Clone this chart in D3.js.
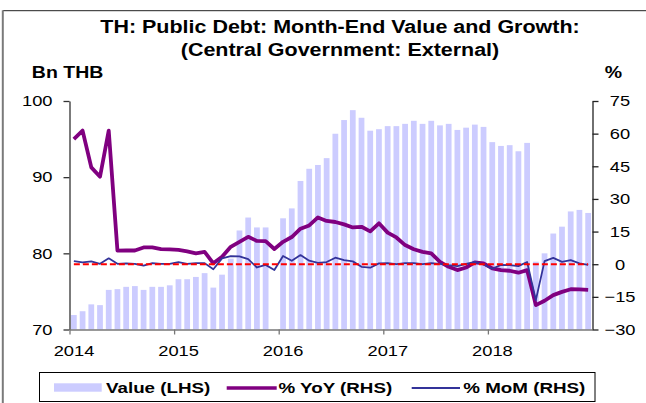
<!DOCTYPE html>
<html>
<head>
<meta charset="utf-8">
<script src="https://cdn.jsdelivr.net/npm/d3@7"></script>
<style>
  html, body { margin: 0; padding: 0; background: #fff; }
  svg { display: block; }
  text { font-family: "Liberation Sans", Arial, sans-serif; fill: #000; }
</style>
</head>
<body>
<svg id="chart" width="646" height="403"></svg>
<script>
// ---------------- DATA ----------------
const months = [
  "2014-01","2014-02","2014-03","2014-04","2014-05","2014-06","2014-07","2014-08","2014-09","2014-10","2014-11","2014-12",
  "2015-01","2015-02","2015-03","2015-04","2015-05","2015-06","2015-07","2015-08","2015-09","2015-10","2015-11","2015-12",
  "2016-01","2016-02","2016-03","2016-04","2016-05","2016-06","2016-07","2016-08","2016-09","2016-10","2016-11","2016-12",
  "2017-01","2017-02","2017-03","2017-04","2017-05","2017-06","2017-07","2017-08","2017-09","2017-10","2017-11","2017-12",
  "2018-01","2018-02","2018-03","2018-04","2018-05","2018-06","2018-07","2018-08","2018-09","2018-10","2018-11","2018-12"
];
// Value (LHS), Bn THB
const valueLHS = [
  71.9, 72.4, 73.3, 73.2, 75.2, 75.3, 75.6, 75.7, 75.2, 75.6, 75.6, 75.8,
  76.6, 76.6, 76.9, 77.4, 75.5, 77.2, 79.3, 83.0, 84.7, 83.4, 83.4, null,
  84.6, 85.9, 89.5, 91.1, 91.6, 92.5, 95.7, 97.5, 98.8, 97.8, 96.1, 96.3,
  96.7, 96.7, 97.0, 97.4, 97.0, 97.4, 96.8, 97.0, 96.2, 96.5, 96.9, 96.6,
  94.6, 94.1, 94.2, 93.4, 94.5, 78.9, 80.0, 82.6, 83.5, 85.5, 85.7, 85.3
];
// % YoY (RHS)
const yoyRHS = [
  57.5, 61.4, 44.5, 40.2, 61.4, 6.2, 6.3, 6.3, 7.7, 7.7, 6.9, 6.8,
  6.6, 5.9, 5.0, 5.7, 0.4, 3.4, 8.0, 10.3, 12.6, 10.7, 10.6, 7.0,
  10.3, 12.5, 16.3, 17.8, 21.5, 19.9, 19.4, 18.3, 16.9, 17.2, 15.1, 18.8,
  14.5, 12.3, 8.8, 6.9, 5.7, 5.0, 1.1, -1.2, -2.7, -1.5, 0.8, 0.4,
  -1.9, -2.7, -3.0, -3.9, -2.7, -18.8, -16.8, -14.2, -12.7, -11.5, -11.6, -11.8
];
// % MoM (RHS)
const momRHS = [
  1.4, 0.8, 1.3, 0.2, 2.7, 0.2, 0.4, 0.2, -0.6, 0.5, 0.2, 0.2,
  1.0, 0.2, 0.5, 0.5, -2.3, 2.7, 3.7, 3.6, 2.3, -1.5, -0.3, -2.7,
  3.8, 1.6, 4.2, 1.6, 0.6, 1.0, 3.0, 1.9, 1.3, -1.2, -1.6, 0.4,
  0.5, 0.0, 0.5, 0.5, 0.0, 0.5, 0.2, -0.4, -0.9, 0.2, 1.1, -0.1,
  -2.1, -0.3, -0.4, -0.9, 1.0, -16.5, 1.4, 2.9, 1.1, 1.9, 0.4, -0.3
];
const zeroRef = months.map(() => 0);
const yearTicks = [2014, 2015, 2016, 2017, 2018];
const leftTicks = [70, 80, 90, 100];
const rightTicks = [-30, -15, 0, 15, 30, 45, 60, 75];
const titleLines = ["TH: Public Debt: Month-End Value and Growth:", "(Central Government: External)"];
const legendLabels = ["Value (LHS)", "% YoY (RHS)", "% MoM (RHS)"];

// ---------------- LAYOUT ----------------
const SX = 1.22; // horizontal text stretch of the original
const L = 69.5, R = 592.5, T = 101, B = 329.5;
const svg = d3.select("#chart");

const x = d3.scaleBand().domain(months).range([L, R]).paddingInner(0.34).paddingOuter(0.17);
const xYear = d3.scaleLinear().domain([2014, 2019]).range([L, R]);
const yL = d3.scaleLinear().domain([70, 100]).range([B, T]);
const yR = d3.scaleLinear().domain([-30, 75]).range([B, T]);
const cx = m => x(m) + x.bandwidth() / 2;

function stretchText(sel) {
  sel.each(function () {
    const t = d3.select(this);
    const tx = +t.attr("x") || 0, ty = +t.attr("y") || 0;
    t.attr("x", 0).attr("y", 0)
     .attr("transform", `translate(${tx},${ty}) scale(${SX},1)`);
  });
}

// frame
svg.append("line").attr("x1", 3).attr("x2", 646).attr("y1", 10.7).attr("y2", 10.7)
  .attr("stroke", "#222").attr("stroke-width", 1);
svg.append("line").attr("x1", 2.8).attr("x2", 2.8).attr("y1", 10.2).attr("y2", 403)
  .attr("stroke", "#7a7a7a").attr("stroke-width", 2);

// title
svg.append("g").selectAll("text").data(titleLines).join("text")
  .attr("x", 340).attr("y", (d, i) => i === 0 ? 33.3 : 55.5)
  .attr("text-anchor", "middle").attr("font-weight", "bold").attr("font-size", 17.6)
  .text(d => d).call(stretchText);

// unit labels
svg.append("text").attr("x", 103.3).attr("y", 78.3).attr("text-anchor", "end")
  .attr("font-weight", "bold").attr("font-size", 16).text("Bn THB").call(stretchText);
svg.append("text").attr("x", 622).attr("y", 77.6).attr("text-anchor", "end")
  .attr("font-weight", "bold").attr("font-size", 16).text("%").call(stretchText);

// bars
svg.append("g").selectAll("rect")
  .data(months.map((m, i) => ({ m, v: valueLHS[i] })).filter(d => d.v != null))
  .join("rect")
  .attr("x", d => x(d.m)).attr("width", x.bandwidth())
  .attr("y", d => yL(d.v)).attr("height", d => B - yL(d.v))
  .attr("fill", "#ccccff");

// lines
const line = d3.line().defined(d => d != null).x((d, i) => cx(months[i])).y(d => yR(d));
svg.append("path").datum(yoyRHS).attr("d", line).attr("fill", "none")
  .attr("stroke", "#800080").attr("stroke-width", 3.8).attr("stroke-linejoin", "round");
svg.append("path").datum(momRHS).attr("d", line).attr("fill", "none")
  .attr("stroke", "#333399").attr("stroke-width", 1.8).attr("stroke-linejoin", "round");
svg.append("path").datum(zeroRef).attr("d", line).attr("fill", "none")
  .attr("stroke", "#ff0000").attr("stroke-width", 2).attr("stroke-dasharray", "6,3");

// axes
function styleAxis(g, color) {
  g.select(".domain").attr("stroke", color).attr("stroke-width", 1.3);
  g.selectAll(".tick line").attr("stroke", color).attr("stroke-width", 1.3);
  g.selectAll(".tick text").attr("fill", "#000").attr("font-size", 15)
    .attr("font-family", "Liberation Sans, Arial, sans-serif");
}
const gL = svg.append("g").attr("transform", `translate(${L},0)`)
  .call(d3.axisLeft(yL).tickValues(leftTicks).tickSize(6).tickSizeOuter(0).tickPadding(11));
styleAxis(gL, "#333");
gL.selectAll(".tick text").call(stretchText);

const gR = svg.append("g").attr("transform", `translate(${R},0)`)
  .call(d3.axisRight(yR).tickValues(rightTicks).tickSize(6).tickSizeOuter(0).tickPadding(21.5));
styleAxis(gR, "#222");
gR.selectAll(".tick text").attr("text-anchor", "middle").call(stretchText);

const gB = svg.append("g").attr("transform", `translate(0,${B})`)
  .call(d3.axisBottom(xYear).tickValues(yearTicks).tickFormat(d3.format("d"))
    .tickSize(5).tickSizeOuter(0).tickPadding(10.5));
styleAxis(gB, "#777");
gB.selectAll(".tick text").attr("x", 4).call(stretchText);

// legend
const lg = svg.append("g");
lg.append("rect").attr("x", 39.5).attr("y", 372.5).attr("width", 555.5).attr("height", 29)
  .attr("fill", "none").attr("stroke", "#000").attr("stroke-width", 1);
lg.append("rect").attr("x", 54).attr("y", 383.3).attr("width", 47.7).attr("height", 8.4).attr("fill", "#ccccff");
lg.append("line").attr("x1", 226.7).attr("x2", 276.7).attr("y1", 388).attr("y2", 388)
  .attr("stroke", "#800080").attr("stroke-width", 3.5);
lg.append("line").attr("x1", 411.7).attr("x2", 460).attr("y1", 388).attr("y2", 388)
  .attr("stroke", "#333399").attr("stroke-width", 1.8);
const legX = [106, 278.5, 463.3];
lg.selectAll("text.leg").data(legendLabels).join("text").attr("class", "leg")
  .attr("x", (d, i) => legX[i]).attr("y", 392.7)
  .attr("font-weight", "bold").attr("font-size", 15.4).text(d => d).call(stretchText);
</script>
</body>
</html>
